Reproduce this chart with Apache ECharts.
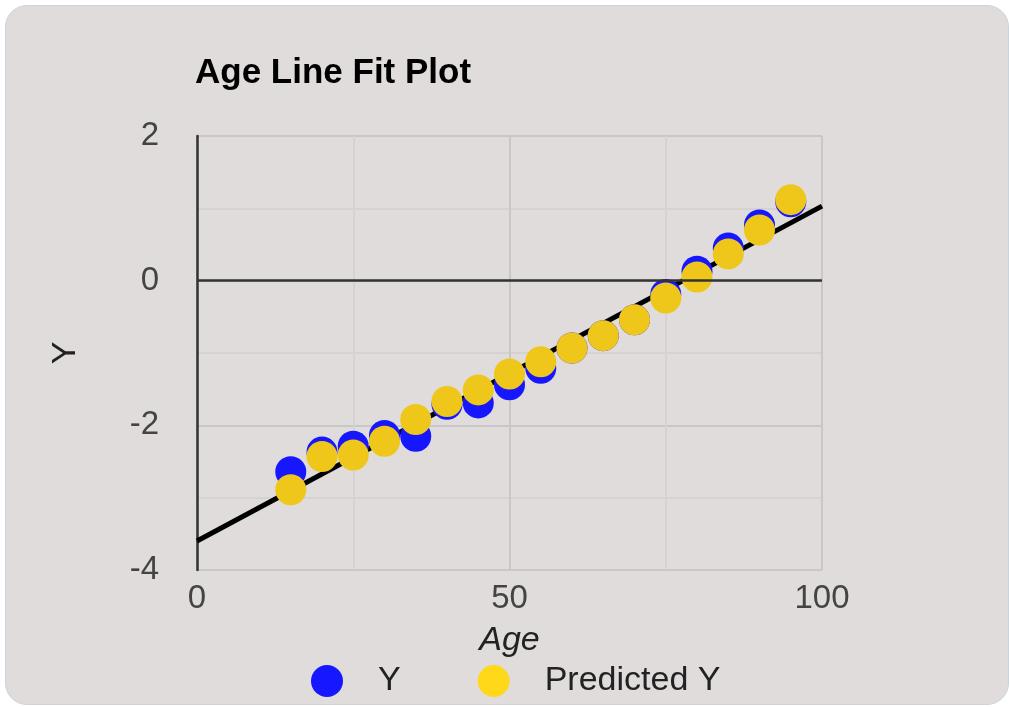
<!DOCTYPE html>
<html>
<head>
<meta charset="utf-8">
<title>Age Line Fit Plot</title>
<script src="https://cdn.jsdelivr.net/npm/echarts@6/dist/echarts.min.js"></script>
<style>
  html, body { margin: 0; padding: 0; background: #ffffff; }
  #card {
    position: absolute; left: 5px; top: 5px; width: 1002px; height: 698px;
    background: #dfdcdb; border: 1px solid #c9d4db; border-radius: 22px;
  }
  #chart { position: absolute; left: 0; top: 0; width: 1009px; height: 707px; }
</style>
</head>
<body>
<div id="card"></div>
<div id="chart"></div>
<script>
// values
const ages = [15, 20, 25, 30, 35, 40, 45, 50, 55, 60, 65, 70, 75, 80, 85, 90, 95]
const yActual = [-2.64, -2.37, -2.29, -2.14, -2.15, -1.71, -1.69, -1.44, -1.21, -0.93, -0.76, -0.54, -0.19, 0.13, 0.45, 0.77, 1.09]
const yPredicted = [-2.89, -2.43, -2.41, -2.22, -1.92, -1.67, -1.51, -1.29, -1.12, -0.93, -0.76, -0.54, -0.24, 0.05, 0.37, 0.70, 1.12]
const fitX = [0, 100]
const fitY = [-3.6, 1.03]

const font = '"Liberation Sans", Arial, sans-serif'
const pairs = (xs, ys) => xs.map((x, i) => [x, ys[i]])

const chart = echarts.init(document.getElementById('chart'))
chart.setOption({
  animation: false,
  backgroundColor: 'transparent',
  textStyle: { fontFamily: font },
  title: {
    text: 'Age Line Fit Plot',
    left: 190,
    top: 51,
    textStyle: { fontSize: 35, fontWeight: 'bold', color: '#000', fontFamily: font }
  },
  legend: {
    left: 306,
    top: 659,
    itemWidth: 92,
    itemHeight: 32,
    itemGap: 77,
    textStyle: { fontSize: 34, color: '#222', fontFamily: font, lineHeight: 34 },
    data: [
      { name: 'Y', icon: 'circle', itemStyle: { color: '#1616ff' } },
      { name: 'Predicted Y', icon: 'circle', itemStyle: { color: '#ffd81a' } }
    ]
  },
  grid: { left: 197, right: 187, top: 136, bottom: 137 },
  xAxis: {
    type: 'value',
    min: 0,
    max: 100,
    interval: 50,
    name: 'Age',
    nameLocation: 'middle',
    nameGap: 54,
    nameTextStyle: { fontSize: 34, fontStyle: 'italic', color: '#222', fontFamily: font },
    axisLine: { show: false },
    axisTick: { show: false },
    axisLabel: { fontSize: 33, color: '#444', margin: 12, fontFamily: font },
    splitLine: { show: true, lineStyle: { color: '#c9c7c6', width: 2 } },
    minorTick: { show: false, splitNumber: 2 },
    minorSplitLine: { show: true, lineStyle: { color: '#d5d2d1', width: 2 } }
  },
  yAxis: {
    type: 'value',
    min: -4,
    max: 2,
    interval: 2,
    name: 'Y',
    nameLocation: 'middle',
    nameGap: 114,
    nameRotate: 90,
    nameTextStyle: { fontSize: 34, color: '#222', fontFamily: font },
    axisLine: { show: true, onZero: false, lineStyle: { color: '#333', width: 2.5 } },
    axisTick: { show: false },
    axisLabel: { fontSize: 33, color: '#444', margin: 38, fontFamily: font },
    splitLine: { show: true, lineStyle: { color: '#c9c7c6', width: 2 } },
    minorTick: { show: false, splitNumber: 2 },
    minorSplitLine: { show: true, lineStyle: { color: '#d5d2d1', width: 2 } }
  },
  series: [
    {
      name: 'Fit',
      type: 'line',
      data: pairs(fitX, fitY),
      symbol: 'none',
      z: 1,
      lineStyle: { color: '#000', width: 5 },
      markLine: {
        silent: true,
        symbol: 'none',
        label: { show: false },
        lineStyle: { color: '#333', width: 2.5, type: 'solid' },
        data: [{ yAxis: 0 }]
      }
    },
    {
      name: 'Y',
      type: 'scatter',
      data: pairs(ages, yActual),
      symbolSize: 31,
      z: 2,
      itemStyle: { color: '#1616ff', opacity: 1 }
    },
    {
      name: 'Predicted Y',
      type: 'scatter',
      data: pairs(ages, yPredicted),
      symbolSize: 31,
      z: 3,
      itemStyle: { color: '#eec71a', opacity: 1 }
    }
  ]
})
</script>
</body>
</html>
